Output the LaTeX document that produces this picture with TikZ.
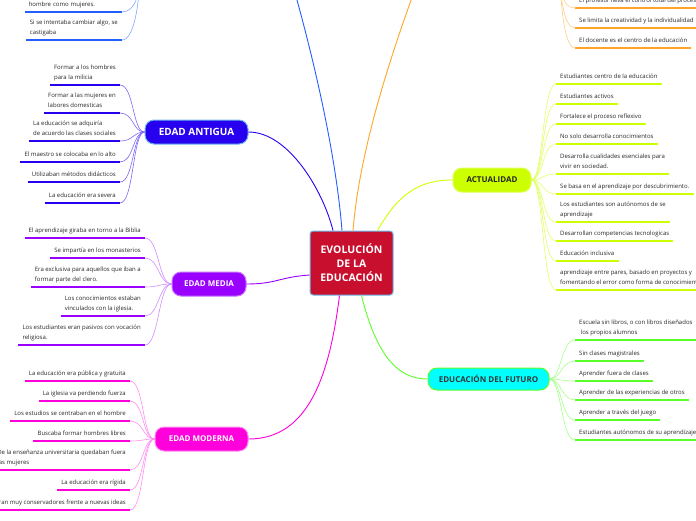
\documentclass[tikz,border=0pt]{standalone}
\usepackage{fontspec}
\setmainfont{Open Sans}
\usepackage{tikz}
\definecolor{mmCen}{RGB}{200,16,46}
\definecolor{mmCenL}{RGB}{110,185,235}
\definecolor{mmTop}{RGB}{35,95,255}
\definecolor{mmAnt}{RGB}{40,0,240}
\definecolor{mmMed}{RGB}{153,0,255}
\definecolor{mmMod}{RGB}{255,0,221}
\definecolor{mmOra}{RGB}{255,165,40}
\definecolor{mmAct}{RGB}{204,255,0}
\definecolor{mmFut}{RGB}{0,255,255}
\definecolor{mmFutL}{RGB}{90,255,40}
\tikzset{
  branch/.style={rounded corners=9pt, line width=1pt, font=\bfseries\fontsize{8}{9}\selectfont,
    minimum height=24pt, inner xsep=6pt},
  leaf/.style={font=\fontsize{6}{10}\selectfont, text=black!85, align=left,
    inner xsep=4pt, inner ysep=3.5pt, text depth=1.5pt},
  uline/.style={line width=1.8pt},
  twig/.style={line width=0.6pt}
}

\begin{document}
\begin{tikzpicture}[x=1pt, y=-1pt]
\useasboundingbox (0,0) rectangle (696,520);
% ===== central topic =====
\node[fill=mmCen, draw=mmCenL, line width=1pt, rounded corners=3pt, minimum width=83pt,
  minimum height=64pt, text=white, align=center, font=\bfseries\fontsize{10.5}{14}\selectfont]
  (cen) at (351.5,263) {EVOLUCIÓN\\DE LA\\EDUCACIÓN};
% ===== main branches =====
\node[branch, fill=mmAnt, draw=mmCenL, text=white, minimum width=103pt,
  font=\bfseries\fontsize{10}{11}\selectfont] (ant) at (196.5,132) {EDAD ANTIGUA};
\node[branch, fill=mmMed, draw=mmMed!55, text=white, minimum width=74pt] (med) at (209,284) {EDAD MEDIA};
\node[branch, fill=mmMod, draw=mmMod!45, text=white, minimum width=93pt] (mod) at (201.5,439) {EDAD MODERNA};
\node[branch, fill=mmAct, draw=mmAct!70, text=black!85, minimum width=78pt] (act) at (492,180) {ACTUALIDAD};
\node[branch, fill=mmFut, draw=mmFutL, text=black!80, minimum width=121pt, minimum height=22pt]
  (fut) at (488.5,379) {EDUCACIÓN DEL FUTURO};
% branches whose topic lies above the page
\coordinate (topLw) at (140,-28);
\coordinate (topLe) at (290,-25);
\coordinate (topRw) at (420,-25);
\coordinate (topRe) at (560,-28);
% ===== centre to branches =====
\draw[mmAnt, line width=0.9pt] ([xshift=-18.5pt]cen.north) .. controls +(-10,-40) and +(40,0) .. (ant.east);
\draw[mmTop, line width=0.9pt] ([xshift=-9.5pt]cen.north) .. controls +(-8,-100) and +(10,35) .. (topLe);
\draw[mmOra, line width=0.9pt] ([xshift=1.5pt]cen.north) .. controls +(8,-100) and +(-12,35) .. (topRw);
\draw[mmAct, line width=0.9pt] ([xshift=26pt]cen.north) .. controls +(20,-35) and +(-35,0) .. (act.west);
\draw[mmMed, line width=0.9pt] ([yshift=-12pt]cen.west) .. controls +(-30,2) and +(30,0) .. (med.east);
\draw[mmMod, line width=0.9pt] ([xshift=-12pt]cen.south) .. controls +(-10,80) and +(60,0) .. (mod.east);
\draw[mmFutL, line width=0.9pt] ([xshift=10pt]cen.south) .. controls +(15,60) and +(-30,0) .. (fut.west);
% ===== leaves: branch above the page, left =====
\node[leaf, anchor=south east, text width=89pt] (old1) at (122,12) {hombre como mujeres.};
\node[leaf, anchor=south east] (old2) at (122,40) {Si se intentaba cambiar algo, se\\castigaba};
\foreach \n in {1,2} {
  \draw[mmTop, uline] (old\n.south west) -- (old\n.south east);
  \draw[mmTop!55, twig] (old\n.south east) .. controls +(14,0) and +(0,20) .. (topLw);
}
% ===== leaves: EDAD ANTIGUA =====
\foreach \n/\y/\txt in {1/85/{Formar a los hombres\\para la milicia},
    2/113/{Formar a las mujeres en\\labores domesticas},
    3/141/{La educación se adquiría\\de acuerdo las clases sociales},
    4/162/{El maestro se colocaba en lo alto},
    5/182/{Utilizaban métodos didácticos},
    6/203/{La educación era severa}} {
  \node[leaf, anchor=south east] (ant\n) at (120,\y) {\txt};
  \draw[mmAnt, uline] (ant\n.south west) -- (ant\n.south east);
  \draw[mmAnt!60, twig] (ant\n.south east) .. controls +(14,0) and +(-12,0) .. (ant.west);
}
% ===== leaves: EDAD MEDIA =====
\foreach \n/\y/\txt in {1/238/{El aprendizaje giraba en torno a la Biblia},
    2/258/{Se impartía en los monasterios},
    3/287/{Era exclusiva para aquellos que iban a\\formar parte del clero.},
    4/316/{Los conocimientos estaban\\vinculados con la iglesia.},
    5/345/{Los estudiantes eran pasivos con vocación\\religiosa.}} {
  \node[leaf, anchor=south east] (med\n) at (145,\y) {\txt};
  \draw[mmMed, uline] (med\n.south west) -- (med\n.south east);
  \draw[mmMed!45, twig] (med\n.south east) .. controls +(14,0) and +(-13,0) .. (med.west);
}
% ===== leaves: EDAD MODERNA =====
\foreach \n/\y/\txt in {1/381/{La educación era pública y gratuita},
    2/401/{La iglesia va perdiendo fuerza},
    3/421/{Los estudios se centraban en el hombre},
    4/441/{Buscaba formar hombres libres},
    5/470/{De la enseñanza universitaria quedaban fuera\\las mujeres},
    6/490/{La educación era rígida},
    7/510/{Eran muy conservadores frente a nuevas ideas}} {
  \node[leaf, anchor=south east] (mod\n) at (130,\y) {\txt};
  \draw[mmMod, uline] (mod\n.south west) -- (mod\n.south east);
  \draw[mmMod!45, twig] (mod\n.south east) .. controls +(14,0) and +(-12,0) .. (mod.west);
}
% ===== leaves: branch above the page, right =====
\foreach \n/\y/\txt in {1/8/{El profesor lleva el control total del proceso},
    2/28/{Se limita la creatividad y la individualidad},
    3/48/{El docente es el centro de la educación}} {
  \node[leaf, anchor=south west] (ora\n) at (575,\y) {\txt};
  \draw[mmOra, uline] (ora\n.south west) -- (ora\n.south east);
  \draw[mmOra!55, twig] (ora\n.south west) .. controls +(-12,0) and +(0,20) .. (topRe);
}
% ===== leaves: ACTUALIDAD =====
\foreach \n/\y/\txt in {1/84/{Estudiantes centro de la educación},
    2/104/{Estudiantes activos},
    3/124/{Fortalece el proceso reflexivo},
    4/144/{No solo desarrolla conocimientos},
    5/174/{Desarrolla cualidades esenciales para\\vivir en sociedad.},
    6/194/{Se basa en el aprendizaje por descubrimiento.},
    7/222/{Los estudiantes son autónomos de se\\aprendizaje},
    8/241/{Desarrollan competencias tecnologicas},
    9/261/{Educación inclusiva},
    10/290/{aprendizaje entre pares, basado en proyectos y\\fomentando el error como forma de conocimiento}} {
  \node[leaf, anchor=south west] (act\n) at (556,\y) {\txt};
  \draw[mmAct!60, twig] (act\n.south west) .. controls +(-14,0) and +(12,0) .. (act.east);
}
\foreach \n in {1,...,9}
  \draw[mmAct, uline] (act\n.south west) -- (act\n.south east);
\draw[mmAct, uline] (act10.south west) -- ++(150,0);
% ===== leaves: EDUCACIÓN DEL FUTURO =====
\foreach \n/\y/\txt in {1/340/{Escuela sin libros, o con libros diseñados\\\ los propios alumnos},
    2/361/{Sin clases magistrales},
    3/381/{Aprender fuera de clases},
    4/400/{Aprender de las experiencias de otros},
    5/420/{Aprender a través del juego},
    6/440/{Estudiantes autónomos de su aprendizaje}} {
  \node[leaf, anchor=south west] (fut\n) at (575,\y) {\txt};
  \draw[mmFutL!55, twig] (fut\n.south west) .. controls +(-14,0) and +(12,0) .. (fut.east);
}
\foreach \n in {2,...,6}
  \draw[mmFutL, uline] (fut\n.south west) -- (fut\n.south east);
\draw[mmFutL, uline] (fut1.south west) -- ++(150,0);
\end{tikzpicture}
\end{document}
